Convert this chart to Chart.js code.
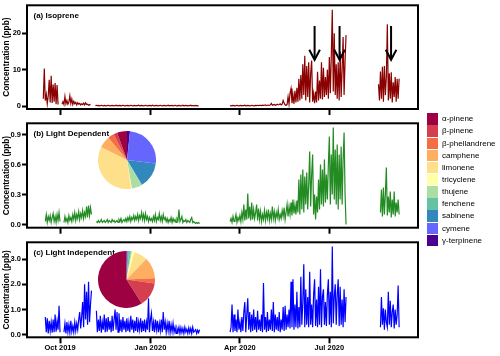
<!DOCTYPE html>
<html><head><meta charset="utf-8">
<script src="https://cdn.jsdelivr.net/npm/chart.js@4.4.1/dist/chart.umd.min.js"></script>
<style>
html,body{margin:0;padding:0;background:#fff;}
#wrap{position:relative;width:500px;height:356px;overflow:hidden;font-family:"Liberation Sans",Arial,sans-serif;}
canvas{position:absolute;}
#legend{position:absolute;left:427px;top:113.3px;}
.row{position:absolute;left:0;height:11.4px;white-space:nowrap;}
.sw{position:absolute;left:0;top:0;width:11.3px;height:11.4px;}
.tx{position:absolute;left:15px;top:0;line-height:11.4px;font-size:8px;color:#000;}
</style></head><body><div id="wrap">
<canvas id="ca" width="420" height="356" style="left:0;top:0"></canvas>
<canvas id="cb" width="420" height="356" style="left:0;top:0"></canvas>
<canvas id="cc" width="420" height="356" style="left:0;top:0"></canvas>
<canvas id="pb" width="58" height="58" style="left:98px;top:131px"></canvas>
<canvas id="pc" width="57" height="57" style="left:98px;top:251px"></canvas>
<div id="legend"></div>
</div>
<script>
// ---- axis ticks (days since 1 Oct 2019) ----
const xTickDays = [0, 92, 183, 274];
const xTickLabels = ['Oct 2019', 'Jan 2020', 'Apr 2020', 'Jul 2020'];
const xMin = -33.6, xMax = 364.2;
const yTicksA = [0, 10, 20], yLabelsA = ['0', '10', '20'];
const yTicksB = [0, 0.3, 0.6, 0.9], yLabelsB = ['0.0', '0.3', '0.6', '0.9'];
const yTicksC = [0, 1, 2, 3], yLabelsC = ['0.0', '1.0', '2.0', '3.0'];

// ---- compounds / pies ----
const compounds = ['α-pinene','β-pinene','β-phellandrene','camphene','limonene','tricyclene','thujene','fenchene','sabinene','cymene','γ-terpinene'];
const compoundColors = ['#9E0142','#D53E4F','#F46D43','#FDAE61','#FEE08B','#FFFFA6','#ABDDA4','#66C2A5','#3288BD','#6666FF','#4B0092'];
const pieLightDep = [20, 7.6, 12, 23.6, 125, 1.5, 20, 1.5, 52, 91, 6];
const pieLightIndep = [212.3, 49.8, 10.3, 43.3, 27.6, 5.5, 1.9, 4.7, 2, 1.3, 1.3];

// ---- arrows on isoprene panel ----
const arrowDays = [259, 284.4, 336.8];
const arrowTopVal = 22, arrowTipVal = 12.7;

// ---- Isoprene (ppb), daily segments ----
const isoStarts = [-17, 2, 36, 173, 324];
const isoA = [2.0,10.3,1.5,3.2,0.6,2.8,7.2,1.0,8.3,0.8,5.9,1.2,6.3,0.5,5.8,0.4];
const isoB = [0.5,1.2,0.4,2.6,0.6,1.5,0.5,1.1,2.8,0.7,1.9,0.4,1.3,0.6,1.0,0.3,0.9,0.5,0.7,0.3,0.6,0.4,0.8,0.3,0.9,0.4,0.5,0.2,0.4,0.2];
const isoC = [0.1,0.2,0.1,0.15,0.05,0.1,0.2,0.1,0.05,0.15,
0.1,0.05,0.1,0.2,0.1,0.05,0.1,0.15,0.1,0.05,
0.1,0.2,0.05,0.1,0.1,0.15,0.05,0.1,0.2,0.1,
0.05,0.1,0.1,0.15,0.05,0.1,0.2,0.1,0.05,0.1,
0.15,0.05,0.1,0.1,0.2,0.05,0.1,0.15,0.1,0.05,
0.1,0.2,0.1,0.05,0.1,0.15,0.1,0.05,0.2,0.1,
0.05,0.1,0.15,0.1,0.05,0.1,0.2,0.1,0.05,0.1,
0.15,0.1,0.05,0.1,0.2,0.05,0.1,0.1,0.15,0.05,
0.1,0.2,0.1,0.05,0.1,0.15,0.1,0.05,0.1,0.2,
0.05,0.1,0.15,0.1,0.05,0.1,0.1,0.2,0.05,0.1,
0.1,0.05,0.15,0.1,0.05,0.1];
const isoD = [0.1,0.05,0.1,0.15,0.1,0.05,0.1,0.2,0.1,0.05,
0.1,0.15,0.05,0.1,0.1,0.2,0.05,0.1,0.15,0.1,
0.05,0.1,0.2,0.1,0.05,0.1,0.15,0.1,0.2,0.1,
0.15,0.2,0.1,0.25,0.15,0.2,0.3,0.1,0.2,0.25,
0.15,0.3,
0.7,0.2,0.3,0.4,0.2,0.3,0.5,0.3,0.4,0.6,0.3,0.5,1.5,0.8,0.3,0.2,0.4,
2.5,0.5,3.5,4.8,0.8,3.0,0.6,4.2,1.0,5.0,
1.2,7.5,1.5,8.5,2.0,11.5,3.0,13.8,1.5,11.0,
2.5,12.0,1.0,9.0,12.5,1.2,3.5,0.8,4.0,1.0,
9.4,1.5,7.0,2.0,12.0,1.8,10.5,2.5,8.0,3.0,
10.0,2.0,13.5,3.5,14.0,26.5,4.0,20.0,3.0,11.5,
2.0,12.0,1.5,15.0,2.5,10.0,19.0,3.0,12.5,19.5];
const isoE = [6.0,1.5,9.5,2.0,10.8,1.2,11.0,3.0,8.0,22.5,1.5,9.0,2.0,9.3,1.0,6.5,2.5,8.0,1.2,7.5,2.0,7.5];

// ---- Light dependent (ppb) ----
const ldStarts = [-15, 4, 37, 173, 326];
const ldA = [0.03,0.1,0.02,0.08,0.04,0.09,0.02,0.07,0.11,0.03,0.08,0.02,0.1,0.04,0.12,0.03];
const ldB = [0.02,0.08,0.03,0.06,0.02,0.09,0.04,0.07,0.03,0.1,
0.05,0.12,0.04,0.1,0.06,0.13,0.05,0.11,0.07,0.14,
0.06,0.12,0.08,0.18,0.07,0.19,0.09,0.17,0.1];
const ldC = [0.03,0.02,0.04,0.02,0.03,0.05,0.02,0.03,0.04,0.02,
0.03,0.05,0.02,0.04,0.03,0.02,0.05,0.03,0.04,0.02,
0.03,0.04,0.02,0.05,0.03,0.06,0.02,0.04,0.05,0.03,
0.06,0.03,0.07,0.04,0.08,0.03,0.07,0.05,0.09,0.04,
0.08,0.05,0.1,0.04,0.09,0.06,0.12,0.05,0.1,0.04,
0.11,0.05,0.08,0.03,0.07,0.04,0.06,0.03,0.08,0.04,
0.1,0.03,0.07,0.05,0.11,0.04,0.08,0.03,0.1,0.05,
0.07,0.03,0.06,0.02,0.05,0.03,0.07,0.02,0.06,0.03,
0.05,0.02,0.06,0.04,0.15,0.03,0.05,0.08,0.02,0.04,
0.03,0.05,0.02,0.04,0.03,0.02,0.05,0.07,0.02,0.03,
0.02,0.01,0.02,0.01,0.02,0.01];
const ldD = [0.03,0.06,0.02,0.08,0.03,0.05,0.1,0.02,0.07,0.04,
0.09,0.03,0.12,0.05,0.2,0.04,0.15,0.05,0.31,0.06,
0.18,0.04,0.22,0.05,0.15,0.06,0.12,0.2,0.04,0.16,
0.05,0.13,0.03,0.1,0.05,0.14,0.04,0.12,0.06,0.15,
0.04,0.11,0.05,0.18,0.06,0.13,0.04,0.12,0.07,0.15,
0.05,0.1,0.06,0.14,0.08,0.17,0.05,0.12,0.2,0.08,
0.18,0.1,0.22,0.09,0.25,0.11,0.2,0.1,0.24,0.12,
0.45,0.1,0.5,0.15,0.55,0.12,0.48,0.2,0.52,0.15,
0.4,0.73,0.18,0.5,0.7,0.1,0.3,0.05,0.28,0.12,
0.45,0.15,0.6,0.2,0.55,0.18,0.65,0.22,0.5,0.25,
0.6,0.88,0.2,0.7,0.3,0.97,0.25,0.75,0.2,0.8,
0.15,0.7,0.25,0.78,0.2,0.65,0.92,0.3,0.0];
const ldE = [0.12,0.35,0.08,0.37,0.1,0.3,0.57,0.09,0.28,0.12,0.33,0.07,0.25,0.1,0.33,0.08,0.22,0.12,0.25,0.1];

// ---- Light independent (ppb) ----
const liStarts = [-15, 4, 37, 173, 326];
const liA = [0.7,0.1,0.65,0.05,0.55,0.15,0.5,0.08,0.6,0.1,0.8,0.12,0.55,0.2,1.15,0.1];
const liB = [0.1,0.45,0.05,0.5,0.1,0.4,0.08,0.55,0.12,0.35,
0.1,0.5,0.15,0.45,0.2,0.6,0.9,0.25,0.7,1.3,
0.3,2.0,0.6,1.7,0.4,2.1,0.5,1.2,1.75];
const liC = [0.95,0.1,0.6,0.15,0.75,0.08,0.5,0.2,0.8,0.1,
0.65,0.12,0.7,0.2,0.55,0.1,0.75,0.15,0.6,1.0,
0.2,0.9,0.1,0.85,0.15,0.6,0.1,0.7,0.2,0.55,
0.1,0.65,0.15,0.5,0.1,0.75,0.2,0.6,0.08,0.55,
0.15,0.7,0.1,0.5,0.2,0.65,0.1,0.55,0.15,0.6,
0.1,0.5,0.2,1.45,0.1,0.6,0.85,0.15,0.5,0.1,
0.6,0.2,0.55,0.1,0.45,0.15,0.6,0.1,0.9,0.2,
0.5,0.1,0.45,0.15,0.55,0.08,0.4,0.12,0.45,0.1,
0.3,0.05,0.25,0.1,0.3,0.05,0.28,0.08,0.25,0.05,
0.3,0.1,0.22,0.05,0.27,0.08,0.25,0.05,0.3,0.1,
0.15,0.2,0.05,0.18,0.08,0.2];
const liD = [0.1,0.3,1.2,0.1,0.8,0.15,0.6,0.1,1.0,0.2,
0.5,0.1,0.7,0.15,0.9,1.3,0.1,0.8,1.45,0.2,
0.9,0.1,0.8,0.15,1.0,0.2,0.7,0.1,0.95,0.2,
0.6,0.15,0.8,0.1,2.05,0.2,0.7,0.1,0.9,0.15,
0.6,0.2,1.0,0.15,1.3,0.1,0.8,0.2,0.7,0.15,
0.9,0.1,0.6,0.2,1.1,0.15,1.15,0.2,0.8,0.3,
1.0,0.25,2.1,0.3,2.2,0.2,1.2,0.3,1.7,0.25,
1.1,0.3,2.3,0.4,1.3,2.8,0.3,1.8,0.4,1.5,
0.3,2.5,0.4,1.2,0.3,1.6,2.2,0.35,1.4,0.3,
1.9,0.4,2.6,0.3,1.5,1.8,0.4,1.3,0.35,1.6,
2.2,0.4,1.7,0.3,3.5,0.45,1.5,2.0,0.4,1.6,
2.2,0.35,1.9,0.4,1.4,0.3,1.8,0.5,1.5];
const liE = [0.3,1.5,0.4,1.05,0.2,1.0,0.5,0.3,1.7,0.4,1.35,0.3,0.9,1.2,0.25,1.0,0.4,0.8,1.95,0.3];

// ---------------------------------------------------
const FONT = '"Liberation Sans", Arial, sans-serif';

function buildSeries(starts, segs) {
  const pts = [];
  segs.forEach((vals, k) => {
    if (k > 0) pts.push({x: starts[k] - 0.5, y: null});
    vals.forEach((v, i) => pts.push({x: starts[k] + i, y: v}));
  });
  return pts;
}

function panelPlugin(title, arrows) {
  return {
    id: 'panelDeco',
    afterDatasetsDraw(chart) {
      const {ctx, chartArea: a, scales} = chart;
      ctx.save();
      ctx.strokeStyle = '#000';
      ctx.lineWidth = 2;
      ctx.strokeRect(a.left, a.top, a.right - a.left, a.bottom - a.top);
      ctx.fillStyle = '#000';
      ctx.font = 'bold 8px ' + FONT;
      ctx.textBaseline = 'middle';
      ctx.textAlign = 'left';
      ctx.fillText(title, a.left + 6.5, a.top + 10.5);
      if (arrows) {
        ctx.lineWidth = 2;
        arrows.days.forEach(d => {
          const x = scales.x.getPixelForValue(d);
          const y1 = scales.y.getPixelForValue(arrows.top);
          const y2 = scales.y.getPixelForValue(arrows.tip);
          ctx.beginPath();
          ctx.moveTo(x, y1); ctx.lineTo(x, y2 - 1);
          ctx.stroke();
          ctx.beginPath();
          ctx.moveTo(x - 5.3, y2 - 10); ctx.lineTo(x, y2); ctx.lineTo(x + 5.3, y2 - 10);
          ctx.stroke();
        });
      }
      ctx.restore();
    }
  };
}

function makePanel(id, opt) {
  return new Chart(document.getElementById(id), {
    type: 'line',
    data: {datasets: [{
      data: opt.data, borderColor: opt.color, borderWidth: 1.2,
      pointRadius: 0, tension: 0, fill: false, spanGaps: false
    }]},
    options: {
      responsive: false, animation: false, events: [],
      layout: {padding: {left: 0, right: 2, top: opt.top, bottom: opt.bottom}},
      plugins: {legend: {display: false}, tooltip: {enabled: false}},
      scales: {
        x: {
          type: 'linear', min: xMin, max: xMax,
          afterBuildTicks: s => { s.ticks = xTickDays.map(v => ({value: v})); },
          afterFit: s => { s.height = opt.xh; s.paddingLeft = 0; s.paddingRight = 0; },
          ticks: {display: opt.xlabels, autoSkip: false, maxRotation: 0, padding: 0,
                  callback: (v, i) => xTickLabels[i],
                  font: {family: FONT, size: 7.5, weight: 'bold'}, color: '#000'},
          grid: {drawOnChartArea: false, tickLength: 6, tickWidth: 2, tickColor: '#000'},
          border: {display: false}
        },
        y: {
          min: opt.ymin, max: opt.ymax,
          afterBuildTicks: s => { s.ticks = opt.yt.map(v => ({value: v})); },
          afterFit: s => { s.width = 27; s.paddingTop = 0; s.paddingBottom = 0; },
          ticks: {padding: 1, callback: (v, i) => opt.yl[i],
                  font: {family: FONT, size: 7.5, weight: 'bold'}, color: '#000'},
          grid: {drawOnChartArea: false, tickLength: 5, tickWidth: 2, tickColor: '#000'},
          border: {display: false},
          title: {display: true, text: 'Concentration (ppb)', color: '#000',
                  font: {family: FONT, size: 8.3, weight: 'bold'}, padding: {top: 1.5, bottom: 0}}
        }
      }
    },
    plugins: [panelPlugin(opt.title, opt.arrows)]
  });
}

makePanel('ca', {
  data: buildSeries(isoStarts, [isoA, isoB, isoC, isoD, isoE]), color: '#8B0000',
  top: 5.3, bottom: 237, xh: 10, xlabels: false,
  ymin: -0.825, ymax: 27.7, yt: yTicksA, yl: yLabelsA, title: '(a) Isoprene',
  arrows: {days: arrowDays, top: arrowTopVal, tip: arrowTipVal}
});
makePanel('cb', {
  data: buildSeries(ldStarts, [ldA, ldB, ldC, ldD, ldE]), color: '#228B22',
  top: 123.3, bottom: 118.3, xh: 10, xlabels: false,
  ymin: -0.032, ymax: 1.012, yt: yTicksB, yl: yLabelsB, title: '(b) Light Dependent'
});
makePanel('cc', {
  data: buildSeries(liStarts, [liA, liB, liC, liD, liE]), color: '#0000FF',
  top: 242.3, bottom: 0, xh: 18.7, xlabels: true,
  ymin: -0.103, ymax: 3.667, yt: yTicksC, yl: yLabelsC, title: '(c) Light Independent'
});

function makePie(id, values) {
  new Chart(document.getElementById(id), {
    type: 'pie',
    data: {labels: compounds.slice().reverse(),
      datasets: [{data: values.slice().reverse(), backgroundColor: compoundColors.slice().reverse(), borderWidth: 0}]},
    options: {responsive: false, animation: false, events: [],
      layout: {padding: 0},
      plugins: {legend: {display: false}, tooltip: {enabled: false}}}
  });
}
makePie('pb', pieLightDep);
makePie('pc', pieLightIndep);

// legend
const lg = document.getElementById('legend');
compounds.forEach((name, i) => {
  const row = document.createElement('div');
  row.className = 'row';
  row.style.top = (i * 12.15) + 'px';
  const sw = document.createElement('div');
  sw.className = 'sw'; sw.style.background = compoundColors[i];
  const tx = document.createElement('div');
  tx.className = 'tx'; tx.textContent = name;
  row.appendChild(sw); row.appendChild(tx);
  lg.appendChild(row);
});
</script>
</body></html>
